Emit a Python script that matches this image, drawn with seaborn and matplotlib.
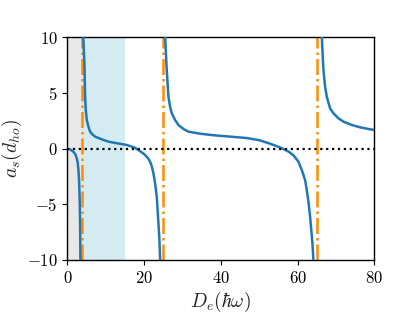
import numpy as np
import pandas as pd
import matplotlib
matplotlib.use("Agg")
import matplotlib.pyplot as plt
import matplotlib.ticker as mticker
import seaborn as sns

# Branches of a_s vs D_e
x_b1 = [0.0, 0.8, 1.56, 2.05, 2.45, 2.7, 2.87, 3.02, 3.13, 3.23, 3.31, 3.36, 3.39, 3.42]
y_b1 = [0.0, -0.08, -0.27, -0.5, -0.87, -1.3, -1.9, -2.7, -3.7, -5.0, -6.7, -8.3, -10.0, -11.0]

x_b2 = [4.15, 4.17, 4.27, 4.44, 4.61, 4.79, 5.05, 5.48, 5.92, 6.52, 7.22, 8.96, 10.7, 13.0,
        15.5, 17.5, 18.94, 20.1, 21.11, 21.6, 22.0, 22.42, 22.85, 23.29, 23.72, 23.98, 24.15, 24.2]
y_b2 = [11.0, 10.0, 8.86, 7.66, 4.67, 3.47, 2.58, 1.98, 1.53, 1.29, 1.08, 0.84, 0.63, 0.48,
        0.33, 0.1, -0.22, -0.52, -0.9, -1.2, -1.6, -2.21, -3.11, -4.31, -6.7, -8.2, -9.84, -11.0]

x_b3 = [25.45, 25.5, 25.63, 25.89, 26.33, 26.76, 27.2, 28.06, 28.93, 30.24, 31.54, 34.5, 38.3,
        42.5, 46.9, 50.0, 52.8, 54.6, 56.3, 57.7, 58.9, 60.2, 61.07, 61.94, 62.37, 62.81, 63.24,
        63.85, 64.11, 64.15]
y_b3 = [11.0, 10.0, 8.86, 7.06, 4.67, 3.77, 3.18, 2.58, 2.13, 1.77, 1.53, 1.35, 1.2,
        1.08, 0.95, 0.76, 0.45, 0.22, -0.03, -0.28, -0.6, -1.16, -1.91, -2.81, -3.71, -4.75, -6.1,
        -8.5, -10.0, -11.0]

x_b4 = [66.25, 66.3, 66.46, 66.72, 67.15, 67.59, 68.46, 69.33, 70.63, 71.93, 74.1, 76.27, 78.44, 80.0]
y_b4 = [11.0, 10.0, 8.86, 7.06, 5.57, 4.67, 3.62, 3.18, 2.73, 2.43, 2.13, 1.92, 1.77, 1.68]

resonances = [3.9, 25.0, 65.0]
gray_span = [0.0, 3.9]
blue_span = [3.9, 15.0]

xticks = [0, 20, 40, 60, 80]
yticks = [-10, -5, 0, 5, 10]

sns.set_style("ticks")
plt.rcParams["mathtext.fontset"] = "cm"
plt.rcParams["font.family"] = ["DejaVu Serif"]

fig = plt.figure(figsize=(4.16, 3.12), dpi=100)
ax = fig.add_axes([0.162, 0.167, 0.738, 0.713])

ax.axvspan(*gray_span, color="lightgray", alpha=0.5, lw=0, zorder=0)
ax.axvspan(*blue_span, color="lightblue", alpha=0.5, lw=0, zorder=0)

for xs, ys in [(x_b1, y_b1), (x_b2, y_b2), (x_b3, y_b3), (x_b4, y_b4)]:
    df = pd.DataFrame({"x": xs, "y": ys})
    sns.lineplot(data=df, x="x", y="y", ax=ax, sort=False, estimator=None,
                 color="#1f77b4", lw=1.8, zorder=3)

for r in resonances:
    ax.axvline(r, color="darkorange", ls="-.", lw=1.8, zorder=2)

ax.axhline(0, color="black", ls=":", lw=1.6, zorder=4)

ax.set_xlim(0, 80)
ax.set_ylim(-10, 10)
ax.set_xticks(xticks)
ax.set_yticks(yticks)
fmt = mticker.FuncFormatter(lambda v, p: r"$%d$" % int(round(v)))
ax.xaxis.set_major_formatter(fmt)
ax.yaxis.set_major_formatter(fmt)
ax.tick_params(labelsize=12, length=3.5, width=0.8, colors="black")
for s in ax.spines.values():
    s.set_color("black")
    s.set_linewidth(1.0)

ax.set_xlabel(r"$D_e(\hbar\omega)$", fontsize=14, labelpad=2)
ax.set_ylabel(r"$a_s(d_{ho})$", fontsize=14, labelpad=2)

fig.savefig("out.png", dpi=100)
